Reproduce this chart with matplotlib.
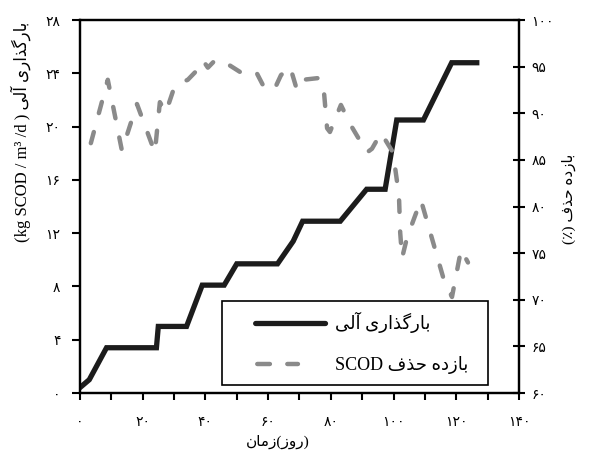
import matplotlib
matplotlib.use("Agg")
import matplotlib.pyplot as plt
from matplotlib.lines import Line2D

# presentation forms: isolated, final, initial, medial (None = does not join forward)
FORMS = {
    'ا': ('\uFE8D', '\uFE8E', None, None),
    'آ': ('\uFE81', '\uFE82', None, None),
    'د': ('\uFEA9', '\uFEAA', None, None),
    'ذ': ('\uFEAB', '\uFEAC', None, None),
    'ر': ('\uFEAD', '\uFEAE', None, None),
    'ز': ('\uFEAF', '\uFEB0', None, None),
    'و': ('\uFEED', '\uFEEE', None, None),
    'ب': ('\uFE8F', '\uFE90', '\uFE91', '\uFE92'),
    'ح': ('\uFEA1', '\uFEA2', '\uFEA3', '\uFEA4'),
    'ف': ('\uFED1', '\uFED2', '\uFED3', '\uFED4'),
    'ل': ('\uFEDD', '\uFEDE', '\uFEDF', '\uFEE0'),
    'م': ('\uFEE1', '\uFEE2', '\uFEE3', '\uFEE4'),
    'ن': ('\uFEE5', '\uFEE6', '\uFEE7', '\uFEE8'),
    'ه': ('\uFEE9', '\uFEEA', '\uFEEB', '\uFEEC'),
    'گ': ('\uFB92', '\uFB93', '\uFB94', '\uFB95'),
    'ی': ('\uFBFC', '\uFBFD', '\uFBFE', '\uFBFF'),
}
MIRROR = {'(': ')', ')': '('}


def shape(text):
    out = []
    for i, ch in enumerate(text):
        if ch not in FORMS:
            out.append(ch)
            continue
        prev = text[i - 1] if i > 0 else None
        nxt = text[i + 1] if i + 1 < len(text) else None
        join_prev = prev in FORMS and FORMS[prev][2] is not None
        join_next = nxt in FORMS and FORMS[ch][2] is not None
        iso, fin, ini, med = FORMS[ch]
        if join_prev and join_next:
            out.append(med)
        elif join_prev:
            out.append(fin)
        elif join_next:
            out.append(ini)
        else:
            out.append(iso)
    return ''.join(out)


def rtl(text):
    # shaped text in visual (left to right) order
    return ''.join(MIRROR.get(c, c) for c in shape(text)[::-1])


def fa(n):
    return str(n).translate(str.maketrans('0123456789', '۰۱۲۳۴۵۶۷۸۹'))


# data
load_day = [0.5, 3, 8.5, 24.4, 25, 34, 39, 46, 50, 63, 68, 71, 83, 91.4, 97.3,
            101, 109.5, 118.5, 126.5]
load_val = [0.5, 1.0, 3.4, 3.4, 5.0, 5.0, 8.1, 8.1, 9.7, 9.7, 11.4, 12.9, 12.9,
            15.3, 15.3, 20.5, 20.5, 24.8, 24.8]

rem_day = [3.5, 8.9, 13.4, 18.2, 23.9, 25.5, 27.4, 30.3, 34.4, 36.7, 39.2, 40.8,
           43.4, 47.5, 51.7, 56.1, 58.7, 61.9, 64.1, 67.0, 69.2, 71.1, 76.5, 77.8,
           78.8, 79.7, 83.2, 86.4, 91.5, 93.1, 96.0, 99.8, 101.7, 102.1, 102.7,
           104.3, 108.7, 115.8, 118.6, 121.5, 123.7]
rem_val = [86.8, 93.6, 86.0, 91.0, 85.8, 91.2, 90.1, 93.0, 93.6, 94.4, 95.7, 94.9,
           95.8, 95.2, 94.3, 94.5, 92.8, 92.5, 94.1, 95.0, 92.5, 93.6, 93.8, 92.3,
           88.4, 88.0, 90.9, 88.7, 85.8, 86.2, 87.9, 85.8, 81.2, 77.2, 74.5,
           76.7, 80.7, 72.4, 70.3, 75.4, 74.0]

x_ticks = list(range(0, 141, 20))
left_ticks = list(range(0, 29, 4))
right_ticks = list(range(60, 101, 5))

lbl_load = rtl('بارگذاری آلی')
lbl_rem = 'SCOD ' + rtl('بازده حذف')
lbl_left = '(kg SCOD / m³ /d ) ' + rtl('بارگذاری آلی')
lbl_right = rtl('بازده حذف (٪)')
lbl_x = rtl('زمان') + '(' + rtl('روز') + ')'

FONT = ['Liberation Serif', 'DejaVu Sans']
BLACK = '#1c1c1c'
GRAY = '#8a8a8a'

fig = plt.figure(figsize=(5.96, 4.57), dpi=100)
ax = fig.add_axes([0.134, 0.140, 0.737, 0.816])
ax2 = ax.twinx()

ax.plot(load_day, load_val, color=BLACK, lw=3.8, solid_joinstyle='miter', zorder=3)
ax2.plot(rem_day, rem_val, color=GRAY, lw=3.2, dashes=(2.6, 4.4),
         dash_capstyle='round', dash_joinstyle='round', zorder=3)

ax.set_xlim(0, 140)
ax.set_ylim(0, 28)
ax2.set_ylim(60, 100)

ax.set_xticks(x_ticks)
ax.set_xticklabels([fa(v) for v in x_ticks], family=['DejaVu Sans'], fontsize=10)
ax.set_xticks(range(10, 141, 20), minor=True)
ax.set_yticks(left_ticks)
ax.set_yticklabels([fa(v) for v in left_ticks], family=['DejaVu Sans'], fontsize=10)
ax2.set_yticks(right_ticks)
ax2.set_yticklabels([fa(v) for v in right_ticks], family=['DejaVu Sans'], fontsize=10)

ax.tick_params(axis='x', which='both', direction='out', length=5, width=1.5, pad=11)
ax.tick_params(axis='y', direction='out', length=6, width=1.5, pad=8)
ax2.tick_params(axis='y', direction='inout', length=8, width=1.5, pad=5)

for a in (ax, ax2):
    for s in a.spines.values():
        s.set_linewidth(1.6)
        s.set_color('black')

ax.set_xlabel(lbl_x, family=FONT, fontsize=11)
ax.xaxis.set_label_coords(0.451, -0.112)
ax.set_ylabel(lbl_left, family=FONT, fontsize=12)
ax.yaxis.set_label_coords(-0.112, 0.70)
ax2.set_ylabel(lbl_right, family=FONT, fontsize=11, rotation=90)
ax2.yaxis.set_label_coords(1.098, 0.52)

# legend proxies: leading blank part of each handle keeps the inner margin
handles = [Line2D([], [], color=BLACK, lw=3.8, solid_capstyle='round',
                  dash_capstyle='round', linestyle=(13.3, (13.3, 4.2))),
           Line2D([], [], color=GRAY, lw=3.2, dash_capstyle='round',
                  linestyle=(15.27, (2.84, 3.92, 2.39, 11.58)))]
leg = ax2.legend(handles, [lbl_load, lbl_rem], loc='lower left',
                 bbox_to_anchor=(0.323, 0.021, 0.606, 0.226), mode='expand',
                 fancybox=False, framealpha=1, edgecolor='black',
                 prop={'family': FONT, 'size': 13}, handlelength=5.1,
                 handletextpad=0.6, labelspacing=1.3, borderpad=0.6,
                 borderaxespad=0)
leg.get_frame().set_linewidth(1.2)

plt.savefig('out.png', dpi=100)
